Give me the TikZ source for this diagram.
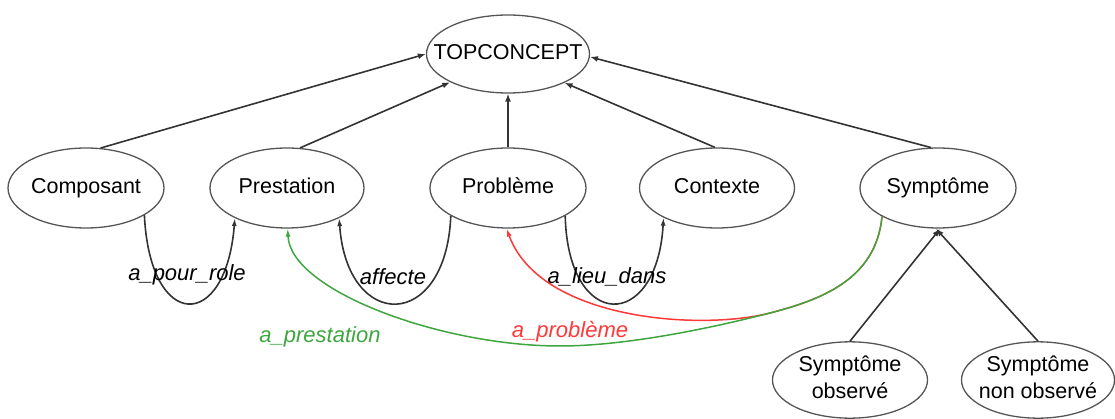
\documentclass[tikz,border=0pt]{standalone}
\usepackage{fontspec}
\setmainfont{Liberation Sans}
\usetikzlibrary{shapes.geometric,arrows.meta}
\definecolor{edgegray}{HTML}{333333}
\definecolor{ringgray}{HTML}{555555}
\definecolor{lgreen}{HTML}{3FA63F}
\definecolor{lred}{HTML}{FF3838}
\newcommand{\ctext}[1]{\makebox[0pt]{\begin{tabular}{@{}c@{}}#1\end{tabular}}}
\tikzset{
  concept/.style={ellipse, draw=ringgray, line width=1.3pt, inner sep=0pt,
    minimum width=155pt, minimum height=80pt,
    font=\fontsize{21.5}{27}\selectfont},
  isa/.style={draw=edgegray, line width=1.6pt, -{Latex[length=8pt,width=6pt]}},
  rel/.style={draw=edgegray, line width=1.6pt, -{Latex[length=8pt,width=5pt]}},
  relg/.style={draw=lgreen, line width=1.5pt, -{Latex[length=8pt,width=5pt]}},
  relr/.style={draw=lred, line width=1.5pt, -{Latex[length=8pt,width=5pt]}},
  lab/.style={font=\fontsize{22}{26}\selectfont\itshape, inner sep=0pt}
}
\begin{document}
\begin{tikzpicture}[x=1pt,y=-1pt]
\useasboundingbox (0,0) rectangle (1115,419);
\node[concept, minimum width=163pt, minimum height=78pt] (top) at (508,54) {\ctext{TOPCONCEPT}};
\node[concept, minimum width=156pt] (comp) at (86,188) {\ctext{Composant}};
\node[concept, minimum width=154pt] (prest) at (287,188) {\ctext{Prestation}};
\node[concept, minimum width=156pt] (prob) at (508,188) {\ctext{Problème}};
\node[concept, minimum width=155pt] (ctx) at (717,188) {\ctext{Contexte}};
\node[concept, minimum width=156pt] (symp) at (938,188) {\ctext{Symptôme}};
\node[concept, minimum width=155pt, minimum height=76pt] (sobs) at (850,380) {\ctext{Symptôme\\observé}};
\node[concept, minimum width=153pt, minimum height=76pt] (snobs) at (1038,380) {\ctext{Symptôme\\non observé}};

% is-a edges
\draw[isa] (comp.70) -- (top.180);
\draw[isa] (prest.72) -- (top.206);
\draw[isa] (prob.90) -- (top.270);
\draw[isa] (ctx.93) -- (top.333);
\draw[isa] (symp.100) -- (top.358);
\draw[isa] (sobs.90) -- (symp.273);
\draw[isa] (snobs.90) -- (symp.267);

% relation loops
\draw[rel] (comp.335) .. controls (150,332) and (226,332) .. (prest.210);
\draw[rel] (prob.206) .. controls (446,332) and (347,332) .. (prest.330);
\draw[rel] (prob.334) .. controls (568,332) and (657,332) .. (ctx.209);

% coloured relations
\coordinate (m) at (770,313);
\coordinate (gb) at (560,346);
\draw[relr] (symp.207) .. controls (876,280) and (820,300) .. (m)
   .. controls (700,331) and (540,320) .. (prob.268);
\draw[relg] (symp.207) .. controls (876,280) and (820,300) .. (m)
   .. controls (700,331) and (620,346) .. (gb)
   .. controls (440,346) and (290,290) .. (prest.271);

% labels
\node[lab] (l1) at (187,275) {a\_pour\_role};
\node[lab] (l2) at (393,277) {affecte};
\node[lab] (l3) at (607,277) {a\_lieu\_dans};
\node[lab, text=lgreen] (l4) at (320,337) {a\_prestation};
\node[lab, text=lred] (l5) at (570,332) {a\_problème};
\end{tikzpicture}
\end{document}
